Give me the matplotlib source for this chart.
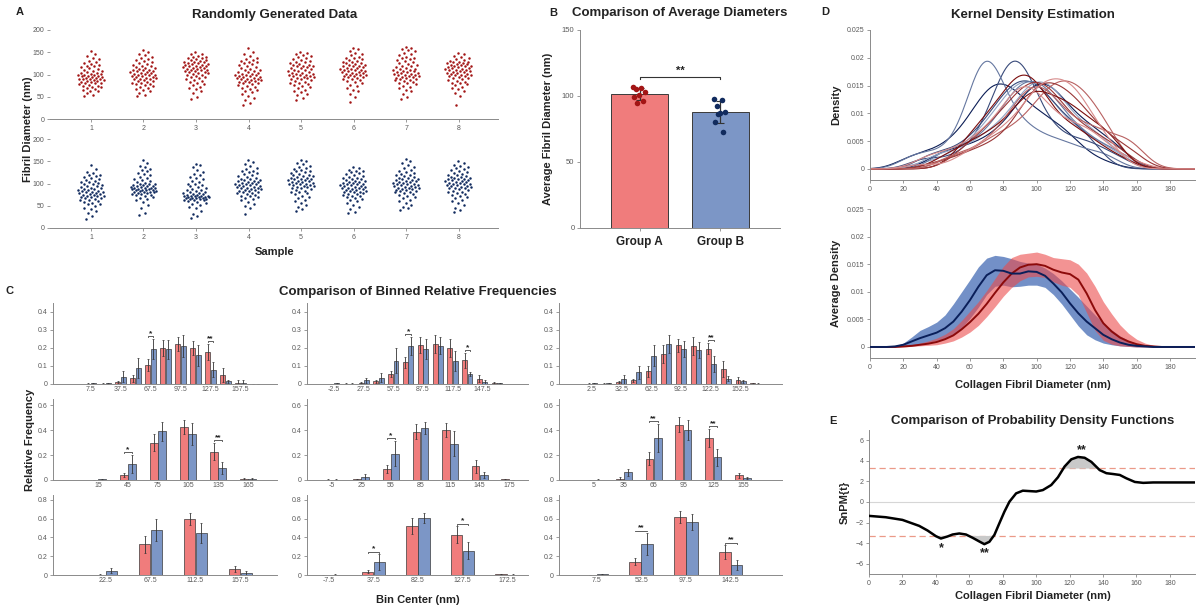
import numpy as np
import matplotlib
matplotlib.use('Agg')
import matplotlib.pyplot as plt

plt.rcParams['font.family'] = ['Liberation Sans', 'DejaVu Sans']

# ======================= DATA =======================
samples = [1, 2, 3, 4, 5, 6, 7, 8]

# Panel A: fibril diameters (nm), group A (red) samples 1-8
a1 = [52,54,58,62,64,65,67,69,71,72,74,75,77,78,80,81,82,83,84,85,86,87,88,89,90,90,91,92,93,94,95,96,97,97,98,99,100,101,102,103,104,106,107,108,110,112,114,116,118,120,122,124,126,128,131,134,137,141,147,153]
a2 = [51,55,59,63,66,68,70,72,74,76,78,79,81,82,84,85,86,88,89,90,91,92,93,94,95,96,97,98,99,100,101,102,103,104,105,106,107,108,109,110,111,112,114,115,117,118,120,122,124,126,128,130,132,135,137,140,143,147,151,155]
a3 = [46,50,58,64,68,70,73,76,79,81,83,85,88,90,92,94,95,97,98,100,101,103,104,105,106,107,108,109,110,111,112,113,114,115,116,117,118,119,120,121,122,123,124,125,126,127,128,129,131,132,133,134,136,137,139,140,142,145,147,150]
a4 = [31,36,42,48,52,56,60,63,66,68,70,72,74,76,78,80,82,83,84,85,86,87,88,89,90,91,92,93,94,95,96,97,98,99,100,101,102,104,105,106,108,110,111,113,115,117,119,121,123,125,127,129,131,133,135,138,141,145,150,160]
a5 = [42,47,53,57,60,63,66,69,72,74,76,78,80,82,84,86,88,89,90,92,93,94,95,96,97,98,99,100,101,102,103,104,106,107,108,110,111,112,114,115,116,118,119,120,121,122,124,125,127,129,131,133,135,137,139,141,143,145,148,150]
a6 = [39,50,57,62,66,70,74,77,80,83,85,87,89,91,92,94,95,96,97,98,99,100,101,102,103,104,105,106,107,108,109,110,111,112,113,114,115,116,118,119,120,121,122,124,125,126,127,128,130,132,134,136,138,140,143,146,149,153,157,160]
a7 = [45,50,56,62,66,70,73,75,78,80,82,84,85,87,88,90,91,92,93,94,95,96,97,98,99,100,101,102,103,104,105,106,107,108,110,111,112,113,115,116,118,120,122,124,126,128,130,132,134,136,138,140,143,146,149,152,155,157,159,161]
a8 = [31,52,58,63,67,70,73,76,78,80,82,84,86,88,90,92,93,95,96,97,98,99,100,101,102,103,104,105,106,107,108,109,110,111,112,113,114,115,116,117,118,119,120,121,122,123,124,125,126,127,128,129,131,133,135,137,139,142,145,148]
# group B (blue) samples 1-8
b1 = [21,26,33,38,42,46,50,53,55,57,59,61,63,64,66,67,68,69,70,71,72,73,74,75,76,77,78,79,80,81,82,83,84,85,86,87,88,90,91,92,94,95,97,98,100,101,103,104,106,108,110,112,114,116,118,120,123,126,132,142]
b2 = [30,33,45,52,58,62,65,68,70,72,74,75,76,77,78,79,80,80.5,81,82,83,84,84.5,85,85,86,87,88,88,89,89.5,90,91,92,93,93.5,94,95,96,97,98,99,100,102,104,106,108,110,112,115,118,121,124,127,130,133,136,140,146,152]
b3 = [23,27,32,38,44,48,52,55,57,59,61,62,63,64,65,66,66,67,67,68,68,69,69,70,70,71,71,72,72,73,74,75,76,77,78,79,80,81,83,85,86,88,90,92,94,96,98,100,103,106,109,112,115,118,121,125,130,136,141,144]
b4 = [31,44,50,55,58,62,65,67,69,71,73,75,76,78,79,80,82,83,84,85,86,87,88,89,90,91,92,93,94,95,96,97,98,99,100,101,102,103,104,105,106,107,108,110,111,113,115,117,119,121,123,125,127,129,132,135,139,143,148,152]
b5 = [38,42,47,52,56,60,64,67,70,73,76,78,80,82,84,86,88,89,90,92,93,94,95,96,97,98,99,100,101,102,103,104,105,106,107,108,109,110,111,112,113,114,116,117,118,120,122,124,125,127,129,131,133,135,137,140,143,146,150,152]
b6 = [33,36,42,48,52,56,60,63,65,67,69,71,73,74,76,77,79,80,81,82,83,84,85,86,87,88,89,90,91,92,93,94,95,96,97,98,99,100,101,102,103,104,105,106,108,109,110,112,113,115,117,119,121,123,125,127,129,131,134,137]
b7 = [41,44,48,52,57,61,64,67,70,72,74,76,78,80,81,83,84,85,86,87,88,89,90,91,92,93,94,95,96,97,98,99,100,101,102,103,104,105,106,107,108,109,110,112,113,115,116,118,120,122,124,126,128,131,134,137,141,145,150,155]
b8 = [36,40,46,52,56,60,64,67,70,72,74,76,78,80,82,84,86,88,89,90,91,92,93,94,95,96,97,98,99,100,101,102,103,104,105,106,107,108,109,110,111,112,113,114,115,117,118,120,122,124,126,128,130,132,134,136,139,142,146,150]
group_a = [a1, a2, a3, a4, a5, a6, a7, a8]
group_b = [b1, b2, b3, b4, b5, b6, b7, b8]

# Panel B: per-sample averages (nm)
groups = ['Group A', 'Group B']
avg_a = [107, 106, 105, 103, 101, 99, 96, 95]
avg_b = [98, 97, 92.5, 88, 87.5, 80, 73, 86]

# Panel C: binned relative frequencies (row = bin width, col = bin offset)
c11_x = [7.5,22.5,37.5,52.5,67.5,82.5,97.5,112.5,127.5,142.5,157.5,172.5]
c11_a = [0.002,0.002,0.01,0.031,0.105,0.20,0.222,0.20,0.176,0.05,0.008,0.001]
c11_b = [0.003,0.004,0.041,0.091,0.194,0.193,0.21,0.159,0.08,0.015,0.008,0.0]
c11_ea = [0.002,0.002,0.006,0.018,0.035,0.045,0.04,0.04,0.045,0.04,0.012,0.001]
c11_eb = [0.003,0.003,0.03,0.055,0.055,0.052,0.06,0.06,0.04,0.01,0.012,0.0]
c11_ticks = [7.5,37.5,67.5,97.5,127.5,157.5]
c11_sig = [(67.5,'*'),(127.5,'**')]

c12_x = [-2.5,12.5,27.5,42.5,57.5,72.5,87.5,102.5,117.5,132.5,147.5,162.5]
c12_a = [0.001,0.002,0.007,0.015,0.056,0.12,0.217,0.222,0.20,0.131,0.03,0.007]
c12_b = [0.003,0.002,0.02,0.035,0.13,0.21,0.194,0.213,0.126,0.056,0.012,0.003]
c12_ea = [0.001,0.001,0.004,0.008,0.015,0.03,0.045,0.048,0.05,0.042,0.02,0.005]
c12_eb = [0.003,0.001,0.015,0.025,0.07,0.05,0.055,0.047,0.055,0.01,0.01,0.003]
c12_ticks = [-2.5,27.5,57.5,87.5,117.5,147.5]
c12_sig = [(72.5,'*'),(132.5,'*')]

c13_x = [2.5,17.5,32.5,47.5,62.5,77.5,92.5,107.5,122.5,137.5,152.5,167.5]
c13_a = [0.002,0.002,0.01,0.02,0.07,0.168,0.215,0.211,0.196,0.085,0.02,0.005]
c13_b = [0.003,0.004,0.026,0.065,0.157,0.222,0.196,0.19,0.111,0.03,0.015,0.002]
c13_ea = [0.002,0.002,0.005,0.01,0.03,0.05,0.035,0.05,0.03,0.045,0.02,0.003]
c13_eb = [0.003,0.003,0.024,0.035,0.058,0.05,0.045,0.045,0.044,0.012,0.01,0.002]
c13_ticks = [2.5,32.5,62.5,92.5,122.5,152.5]
c13_sig = [(122.5,'**')]

c21_x = [15,45,75,105,135,165]
c21_a = [0.002,0.04,0.30,0.424,0.227,0.01]
c21_b = [0.006,0.13,0.39,0.37,0.096,0.008]
c21_ea = [0.002,0.015,0.07,0.055,0.07,0.008]
c21_eb = [0.004,0.07,0.075,0.09,0.05,0.006]
c21_sig = [(45,'*'),(135,'**')]

c22_x = [-5,25,55,85,115,145,175]
c22_a = [0.002,0.006,0.088,0.387,0.40,0.109,0.005]
c22_b = [0.003,0.024,0.211,0.416,0.29,0.04,0.002]
c22_ea = [0.003,0.004,0.032,0.06,0.058,0.05,0.003]
c22_eb = [0.002,0.025,0.1,0.048,0.1,0.022,0.002]
c22_sig = [(55,'*')]

c23_x = [5,35,65,95,125,155]
c23_a = [0.002,0.011,0.171,0.445,0.336,0.04]
c23_b = [0.003,0.061,0.336,0.40,0.181,0.015]
c23_ea = [0.002,0.015,0.05,0.06,0.075,0.02]
c23_eb = [0.002,0.03,0.115,0.08,0.07,0.008]
c23_sig = [(65,'**'),(125,'**')]

c31_x = [22.5,67.5,112.5,157.5]
c31_a = [0.005,0.328,0.596,0.063]
c31_b = [0.046,0.479,0.447,0.025]
c31_ea = [0.01,0.09,0.06,0.035]
c31_eb = [0.03,0.12,0.11,0.02]
c31_sig = []

c32_x = [-7.5,37.5,82.5,127.5,172.5]
c32_a = [0.002,0.035,0.518,0.426,0.01]
c32_b = [0.004,0.134,0.603,0.26,0.005]
c32_ea = [0.002,0.015,0.085,0.09,0.005]
c32_eb = [0.006,0.085,0.055,0.095,0.004]
c32_sig = [(37.5,'*'),(127.5,'*')]

c33_x = [7.5,52.5,97.5,142.5]
c33_a = [0.002,0.141,0.617,0.24]
c33_b = [0.008,0.328,0.564,0.106]
c33_ea = [0.002,0.04,0.06,0.075]
c33_eb = [0.005,0.115,0.085,0.055]
c33_sig = [(52.5,'**'),(142.5,'**')]

# Panel D (bottom): average density with band, x every 5 nm from 0 to 195
d_x = list(range(0, 200, 5))
blue_mean = [0,0,0,0.0001,0.0004,0.0010,0.0016,0.0021,0.0026,0.0034,0.0046,0.0064,0.0085,0.0109,0.0130,0.0139,0.0138,0.0133,0.0133,0.0137,
             0.0136,0.0129,0.0115,0.0099,0.0079,0.0061,0.0046,0.0034,0.0022,0.0014,0.0008,0.0004,0.0002,0.0001,0,0,0,0,0,0]
blue_hi = [0,0,0.0001,0.0002,0.0007,0.0018,0.0030,0.0037,0.0045,0.0058,0.0078,0.0100,0.0122,0.0145,0.0161,0.0166,0.0164,0.0160,0.0155,0.0152,
           0.0150,0.0143,0.0133,0.0120,0.0105,0.0090,0.0074,0.0058,0.0044,0.0031,0.0020,0.0012,0.0006,0.0003,0.0001,0,0,0,0,0]
blue_lo = [0,0,0,0,0.0001,0.0003,0.0005,0.0008,0.0012,0.0015,0.0022,0.0035,0.0052,0.0072,0.0095,0.0110,0.0112,0.0109,0.0110,0.0112,
           0.0112,0.0108,0.0095,0.0078,0.0058,0.0038,0.0022,0.0013,0.0007,0.0004,0.0002,0.0001,0,0,0,0,0,0,0,0]
red_mean = [0,0,0,0,0.0001,0.0002,0.0004,0.0006,0.0009,0.0014,0.0021,0.0032,0.0045,0.0060,0.0078,0.0098,0.0117,0.0133,0.0144,0.0149,
            0.0150,0.0147,0.0140,0.0135,0.0132,0.0122,0.0097,0.0067,0.0043,0.0028,0.0017,0.0010,0.0005,0.0002,0.0001,0,0,0,0,0]
red_hi = [0,0,0,0,0.0002,0.0004,0.0007,0.0011,0.0016,0.0023,0.0033,0.0048,0.0065,0.0082,0.0102,0.0124,0.0146,0.0162,0.0168,0.0170,
          0.0172,0.0168,0.0162,0.0160,0.0158,0.0150,0.0134,0.0110,0.0082,0.0060,0.0040,0.0025,0.0014,0.0007,0.0003,0.0001,0,0,0,0]
red_lo = [0,0,0,0,0,0.0001,0.0002,0.0003,0.0004,0.0007,0.0011,0.0018,0.0027,0.0039,0.0055,0.0073,0.0092,0.0108,0.0120,0.0127,
          0.0128,0.0126,0.0118,0.0112,0.0108,0.0094,0.0062,0.0030,0.0012,0.0005,0.0002,0.0001,0,0,0,0,0,0,0,0]

# Panel E: SnPM{t} curve
e_x = [0,10,20,30,35,40,43,47,50,54,58,62,66,69,72,75,78,81,84,88,92,96,100,104,109,113,117,121,125,129,133,138,142,146,150,154,159,164,170,180,195]
e_y = [-1.35,-1.48,-1.74,-2.32,-2.77,-3.32,-3.55,-3.35,-3.16,-3.06,-3.16,-3.48,-3.84,-4.1,-3.87,-3.2,-2.06,-0.94,0.03,0.84,
       1.1,1.06,1.02,1.16,1.65,2.4,3.45,4.15,4.38,4.3,3.9,3.1,2.8,2.72,2.63,2.3,1.95,1.86,1.9,1.9,1.9]
e_thr = 3.3
e_sig = [(43, -4.45, '*'), (69, -5.0, '**'), (127, 5.0, '**')]

# ======================= STYLE / LAYOUT =======================
W, H = 1200, 608
fig = plt.figure(figsize=(12, 6.08), dpi=100)

RED_DOT = '#a31515'
BLUE_DOT = '#112b5e'
RED_BAR = '#f07c7c'
BLUE_BAR = '#7c96c6'
TICK_C = '#5a5a5a'
AX_C = '#8a8a8a'
TXT_C = '#222222'


def axpx(x0, y0, x1, y1):
    return fig.add_axes([x0 / W, 1 - y1 / H, (x1 - x0) / W, (y1 - y0) / H])


def tpx(x, y, s, size=9.5, weight='bold', rot=0, color=TXT_C):
    fig.text(x / W, 1 - y / H, s, fontsize=size, fontweight=weight, rotation=rot,
             ha='center', va='center', color=color)


def style(ax, left=True, lsize=5):
    for s in ['top', 'right']:
        ax.spines[s].set_visible(False)
    ax.spines['left'].set_visible(left)
    for s in ['left', 'bottom']:
        ax.spines[s].set_color(AX_C)
        ax.spines[s].set_linewidth(0.7)
    ax.tick_params(direction='out', length=2.5, width=0.6, colors=AX_C,
                   labelcolor=TICK_C, labelsize=lsize, pad=1.5)
    ax.patch.set_alpha(0)


def swarm_offsets(vals, halfw):
    v = np.asarray(vals, float)
    d = np.exp(-0.5 * ((v[:, None] - v[None, :]) / 12.0) ** 2).sum(1)
    d = np.sqrt(d / d.max())
    u = (np.arange(len(v)) * 0.618034) % 1.0
    return (2 * u - 1) * halfw * d


# ---------------- Panel A ----------------
for (y0, y1, grp, col) in [(30, 119, group_a, RED_DOT), (139, 228, group_b, BLUE_DOT)]:
    ax = axpx(50, y0, 498, y1)
    for s, vals in zip(samples, grp):
        ax.scatter(s + swarm_offsets(vals, 0.26), vals, s=3.2, color=col, linewidths=0)
    ax.set_xlim(0.22, 8.75)
    ax.set_ylim(0, 200)
    ax.set_xticks(samples)
    ax.set_yticks([0, 50, 100, 150, 200])
    style(ax, left=False)
tpx(275, 15, 'Randomly Generated Data')
tpx(28, 129, 'Fibril Diameter (nm)', size=8, rot=90)
tpx(275, 252, 'Sample', size=8)
tpx(20, 12, 'A', size=8)

# ---------------- Panel B ----------------
ax = axpx(580, 30, 780, 228)
pos = [1, 2]
for p, vals, bc, dc in [(1, avg_a, RED_BAR, RED_DOT), (2, avg_b, BLUE_BAR, BLUE_DOT)]:
    m = np.mean(vals)
    sd = np.std(vals, ddof=1)
    ax.bar(p, m, width=0.7, color=bc, edgecolor='#3a3a3a', linewidth=0.7, zorder=1)
    ax.errorbar(p, m, yerr=sd, fmt='none', ecolor='#333333', elinewidth=0.9, capsize=3, capthick=0.8, zorder=2)
    offs = swarm_offsets(vals, 0.09)
    ax.scatter(p + offs, vals, s=16, color=dc, linewidths=0, zorder=3)
ax.set_xlim(0.26, 2.74)
ax.set_ylim(0, 150)
ax.set_yticks([0, 50, 100, 150])
ax.set_xticks(pos)
ax.set_xticklabels(groups)
style(ax, lsize=5.5)
for lab in ax.get_xticklabels():
    lab.set_fontsize(8.5)
    lab.set_fontweight('bold')
    lab.set_color(TXT_C)
ax.tick_params(axis='x', pad=3)
ax.plot([1, 1, 2, 2], [112.8, 114.2, 114.2, 112.8], color='#333333', lw=0.8)
ax.text(1.5, 115, '**', ha='center', va='bottom', fontsize=8, fontweight='bold', color=TXT_C)
ax.set_ylabel('Average Fibril Diameter (nm)', fontsize=8, fontweight='bold', color=TXT_C, labelpad=6)
tpx(680, 13, 'Comparison of Average Diameters')
tpx(553, 13, 'B', size=8)

# ---------------- Panel C ----------------
col_x = [(53, 277), (307, 528), (559, 782)]
row_y = [(303, 384), (399, 480), (495, 575)]
row_ylim = [0.45, 0.65, 0.85]
row_yticks = [[0, 0.1, 0.2, 0.3, 0.4], [0, 0.2, 0.4, 0.6], [0, 0.2, 0.4, 0.6, 0.8]]
row_w = [5.0, 7.8, 11.5]
cells = [
    [(c11_x, c11_a, c11_b, c11_ea, c11_eb, c11_ticks, c11_sig),
     (c12_x, c12_a, c12_b, c12_ea, c12_eb, c12_ticks, c12_sig),
     (c13_x, c13_a, c13_b, c13_ea, c13_eb, c13_ticks, c13_sig)],
    [(c21_x, c21_a, c21_b, c21_ea, c21_eb, c21_x, c21_sig),
     (c22_x, c22_a, c22_b, c22_ea, c22_eb, c22_x, c22_sig),
     (c23_x, c23_a, c23_b, c23_ea, c23_eb, c23_x, c23_sig)],
    [(c31_x, c31_a, c31_b, c31_ea, c31_eb, c31_x, c31_sig),
     (c32_x, c32_a, c32_b, c32_ea, c32_eb, c32_x, c32_sig),
     (c33_x, c33_a, c33_b, c33_ea, c33_eb, c33_x, c33_sig)],
]
for r in range(3):
    for c in range(3):
        bx, ya, yb, ea, eb, ticks, sig = cells[r][c]
        ax = axpx(col_x[c][0], row_y[r][0], col_x[c][1], row_y[r][1])
        w = row_w[r]
        off = w / 2 + 0.2
        bx = np.asarray(bx, float)
        ax.bar(bx - off, ya, width=w, color=RED_BAR, edgecolor='#3a3a3a', linewidth=0.5, zorder=1)
        ax.bar(bx + off, yb, width=w, color=BLUE_BAR, edgecolor='#3a3a3a', linewidth=0.5, zorder=1)
        ax.errorbar(bx - off, ya, yerr=ea, fmt='none', ecolor='#333333', elinewidth=0.6, capsize=0.8, capthick=0.5, zorder=2)
        ax.errorbar(bx + off, yb, yerr=eb, fmt='none', ecolor='#333333', elinewidth=0.6, capsize=0.8, capthick=0.5, zorder=2)
        yl = row_ylim[r]
        for xc, lab in sig:
            i = list(bx).index(xc)
            top = max(ya[i] + ea[i], yb[i] + eb[i]) + 0.035 * yl
            ax.plot([xc - off, xc - off, xc + off, xc + off],
                    [top - 0.012 * yl, top, top, top - 0.012 * yl], color='#444444', lw=0.6)
            ax.text(xc, top - 0.01 * yl, lab, ha='center', va='bottom', fontsize=6, fontweight='bold', color=TXT_C)
        ax.set_xlim(-30, 194)
        ax.set_ylim(0, yl)
        ax.set_xticks(ticks)
        ax.set_xticklabels([('%g' % t) for t in ticks])
        ax.set_yticks(row_yticks[r])
        ax.set_yticklabels([('%g' % t) for t in row_yticks[r]])
        style(ax)
        ax.tick_params(axis='x', length=0)
tpx(418, 292, 'Comparison of Binned Relative Frequencies')
tpx(30, 440, 'Relative Frequency', size=8, rot=90)
tpx(418, 600, 'Bin Center (nm)', size=8)
tpx(10, 291, 'C', size=8)

# ---------------- Panel D (top) ----------------
ax = axpx(870, 30, 1195, 180)
grid = np.arange(0, 195.5, 0.5)
h = 9.0


def kde(vals):
    v = np.asarray(vals, float)
    z = (grid[:, None] - v[None, :]) / h
    return np.exp(-0.5 * z ** 2).sum(1) / (len(v) * h * np.sqrt(2 * np.pi))


def mix(c1, c2, t):
    c1 = np.array(matplotlib.colors.to_rgb(c1))
    c2 = np.array(matplotlib.colors.to_rgb(c2))
    return tuple(c1 * (1 - t) + c2 * t)


for k, vals in enumerate(group_b):
    ax.plot(grid, kde(vals), color=mix('#0b1d55', '#a9bad8', (k % 4) / 3.5), lw=0.8)
for k, vals in enumerate(group_a):
    ax.plot(grid, kde(vals), color=mix('#7a0c0c', '#e7a0a0', (k % 4) / 3.5), lw=0.8)
ax.set_xlim(0, 195)
ax.set_ylim(-0.002, 0.025)
ax.set_xticks(range(0, 181, 20))
ax.set_yticks([0, 0.005, 0.01, 0.015, 0.02, 0.025])
ax.set_yticklabels(['0', '0.005', '0.01', '0.015', '0.02', '0.025'])
style(ax)
ax.set_ylabel('Density', fontsize=8, fontweight='bold', color=TXT_C, labelpad=4)
tpx(1033, 15, 'Kernel Density Estimation')
tpx(825, 12, 'D', size=8)

# ---------------- Panel D (bottom) ----------------
ax = axpx(870, 209, 1195, 358)
ax.fill_between(d_x, blue_lo, blue_hi, color='#5a7dbd', alpha=0.85, linewidth=0, zorder=1)
ax.fill_between(d_x, red_lo, red_hi, color='#ec4b4b', alpha=0.6, linewidth=0, zorder=2)
ax.plot(d_x, red_mean, color='#8c0a0a', lw=1.4, zorder=3)
ax.plot(d_x, blue_mean, color='#0a1f5a', lw=1.4, zorder=4)
ax.set_xlim(0, 195)
ax.set_ylim(-0.002, 0.025)
ax.set_xticks(range(0, 181, 20))
ax.set_yticks([0, 0.005, 0.01, 0.015, 0.02, 0.025])
ax.set_yticklabels(['0', '0.005', '0.01', '0.015', '0.02', '0.025'])
style(ax)
ax.set_ylabel('Average Density', fontsize=8, fontweight='bold', color=TXT_C, labelpad=4)
tpx(1033, 385, 'Collagen Fibril Diameter (nm)', size=8)

# ---------------- Panel E ----------------
ax = axpx(869, 430, 1195, 574)
ax.axhline(0, color='#d6d6d6', lw=0.8, zorder=0)
ax.axhline(e_thr, color='#eb9a88', lw=0.9, ls=(0, (5, 3)), zorder=1)
ax.axhline(-e_thr, color='#eb9a88', lw=0.9, ls=(0, (5, 3)), zorder=1)
ey = np.asarray(e_y)
ax.fill_between(e_x, e_thr, ey, where=ey > e_thr, interpolate=True, color='#c9c9c9', linewidth=0, zorder=2)
ax.fill_between(e_x, -e_thr, ey, where=ey < -e_thr, interpolate=True, color='#c9c9c9', linewidth=0, zorder=2)
ax.plot(e_x, e_y, color='black', lw=1.8, zorder=3, solid_capstyle='round', solid_joinstyle='round')
for xs, ys, lab in e_sig:
    ax.text(xs, ys, lab, ha='center', va='center', fontsize=9, fontweight='bold', color=TXT_C)
ax.set_xlim(0, 195)
ax.set_ylim(-7, 7)
ax.set_xticks(range(0, 181, 20))
ax.set_yticks([-6, -4, -2, 0, 2, 4, 6])
style(ax)
ax.set_ylabel('SnPM{t}', fontsize=8, fontweight='bold', color=TXT_C, labelpad=4)
tpx(1033, 421, 'Comparison of Probability Density Functions')
tpx(1033, 596, 'Collagen Fibril Diameter (nm)', size=8)
tpx(833, 421, 'E', size=8)

fig.savefig('out.png', dpi=100)
